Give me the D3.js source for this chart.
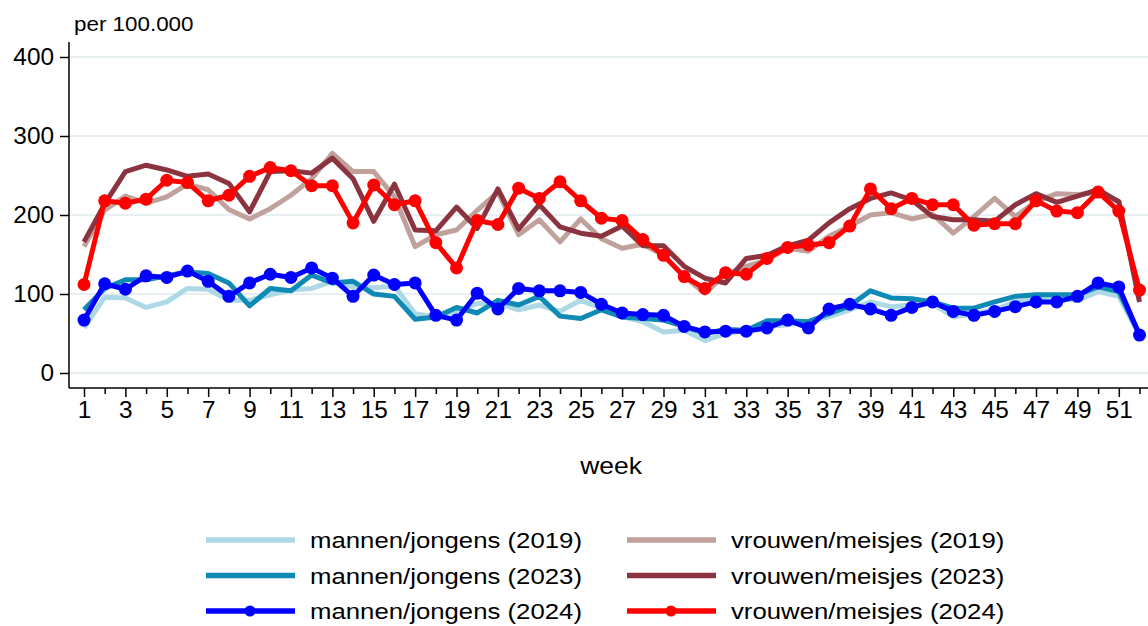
<!DOCTYPE html>
<html>
<head>
<meta charset="utf-8">
<script src="https://cdn.jsdelivr.net/npm/d3@7"></script>
<style>
  body { margin: 0; background: #fff; }
  text { font-family: "Liberation Sans", Arial, sans-serif; fill: #000; }
</style>
</head>
<body>
<svg id="chart" width="1148" height="626"></svg>
<script>
// weeks 1..52
const weeks = d3.range(1, 53);

const mannen2019 = [57,96,95,83,90,107,106,92,92,99,105,107,116,109,108,110,75,71,78,88,88,80,86,78,92,82,71,65,52,54,41,50,54,59,61,65,71,80,90,84,86,88,71,75,80,90,95,95,92,103,97,48];
const mannen2023 = [80,107,118,118,123,128,126,114,85,107,104,124,114,116,100,97,68,71,83,76,92,86,97,72,69,80,71,69,67,59,50,55,54,66,66,65,75,85,104,95,94,90,82,82,90,97,99,99,99,109,103,49];
const mannen2024 = [67,113,106,123,121,129,116,97,114,125,121,133,120,97,124,112,114,73,67,101,81,107,104,104,102,87,76,74,73,59,52,53,53,57,67,57,81,87,81,73,83,90,78,73,78,84,90,90,97,114,109,48];
const vrouwen2019 = [160,206,224,215,223,239,232,207,195,208,225,246,278,255,255,223,160,175,181,206,229,175,194,166,195,170,158,163,149,122,101,125,135,143,158,154,173,186,200,203,195,201,177,198,221,198,217,227,226,228,217,95];
const vrouwen2023 = [166,214,255,263,257,249,252,240,204,255,256,253,272,246,192,239,181,180,210,183,233,182,213,185,177,173,186,161,161,135,120,114,145,149,161,168,190,208,221,228,219,198,194,194,192,213,227,216,224,232,217,90];
const vrouwen2024 = [112,218,215,220,244,241,218,225,249,260,256,237,237,190,238,213,218,165,133,193,188,234,221,242,218,196,193,169,149,122,107,127,125,145,159,162,165,186,233,208,221,213,213,187,189,189,218,205,203,229,205,105];

const yTicks = [0, 100, 200, 300, 400];
const xLabels = d3.range(1, 53, 2);

const series = [
  { name: "mannen/jongens (2019)", values: mannen2019, color: "#add8e6", dots: false, col: 0, row: 0 },
  { name: "mannen/jongens (2023)", values: mannen2023, color: "#0f8ab4", dots: false, col: 0, row: 1 },
  { name: "vrouwen/meisjes (2019)", values: vrouwen2019, color: "#c0a19b", dots: false, col: 1, row: 0 },
  { name: "vrouwen/meisjes (2023)", values: vrouwen2023, color: "#8b3440", dots: false, col: 1, row: 1 },
  { name: "mannen/jongens (2024)", values: mannen2024, color: "#0000ff", dots: true, col: 0, row: 2 },
  { name: "vrouwen/meisjes (2024)", values: vrouwen2024, color: "#ff0000", dots: true, col: 1, row: 2 }
];

const svg = d3.select("#chart");
const axisLeftX = 69, axisBottomY = 388;

const x = d3.scaleLinear().domain([1, 52]).range([84, 1139.5]);
const y = d3.scaleLinear().domain([0, 400]).range([373, 57]);

// the original text is a bit wider than Liberation Sans
function wideText(sel, tx, ty, size, sx) {
  return sel.append("text")
    .attr("transform", `translate(${tx},${ty}) scale(${sx},1)`)
    .style("font-size", size + "px");
}

// gridlines
svg.append("g")
  .selectAll("line")
  .data(yTicks)
  .enter().append("line")
    .attr("x1", axisLeftX).attr("x2", 1148)
    .attr("y1", d => y(d)).attr("y2", d => y(d))
    .attr("stroke", "#e8eff2").attr("stroke-width", 2);

// y axis
const yAxis = svg.append("g")
  .attr("transform", `translate(${axisLeftX},0)`)
  .call(d3.axisLeft(y).tickValues(yTicks).tickSize(9).tickPadding(6));
yAxis.select(".domain").attr("d", `M0,42V${axisBottomY}`).attr("stroke", "#000").attr("stroke-width", 1.5);
yAxis.selectAll(".tick line").attr("stroke", "#000").attr("stroke-width", 1.5);
yAxis.selectAll(".tick text")
  .style("font-size", "23px").attr("font-family", null)
  .attr("x", -15 / 1.06).attr("transform", "scale(1.06,1)");

// x axis: minor ticks each week, labels on odd weeks
const xAxis = svg.append("g")
  .attr("transform", `translate(0,${axisBottomY})`)
  .call(d3.axisBottom(x).tickValues(weeks).tickSize(6)
    .tickFormat(d => xLabels.includes(d) ? d : ""));
xAxis.select(".domain").attr("d", `M${axisLeftX},0H1148`).attr("stroke", "#000").attr("stroke-width", 1.5);
xAxis.selectAll(".tick line")
  .attr("stroke", "#000").attr("stroke-width", 1.5)
  .attr("y2", d => xLabels.includes(d) ? 9 : 6);
xAxis.selectAll(".tick text")
  .attr("y", 14).style("font-size", "23px").attr("font-family", null)
  .attr("transform", "scale(1.06,1)");

wideText(svg, 74, 31, 20, 1.12).text("per 100.000");
wideText(svg, 611, 474, 23, 1.15).attr("text-anchor", "middle").text("week");

// lines
const line = d3.line().x((d, i) => x(weeks[i])).y(d => y(d));

series.forEach(s => {
  svg.append("path")
    .datum(s.values)
    .attr("fill", "none")
    .attr("stroke", s.color)
    .attr("stroke-width", 5)
    .attr("stroke-linejoin", "round")
    .attr("d", line);
  if (s.dots) {
    svg.append("g").selectAll("circle")
      .data(s.values)
      .enter().append("circle")
        .attr("cx", (d, i) => x(weeks[i]))
        .attr("cy", d => y(d))
        .attr("r", 6.5)
        .attr("fill", s.color);
  }
});

// legend
const legend = svg.append("g");
series.forEach(s => {
  const lx = s.col === 0 ? 206 : 627;
  const ly = 540 + s.row * 35.5;
  const g = legend.append("g").attr("transform", `translate(${lx},${ly})`);
  g.append("line").attr("x1", 0).attr("x2", 89).attr("y1", 0).attr("y2", 0)
    .attr("stroke", s.color).attr("stroke-width", 5.5);
  if (s.dots) g.append("circle").attr("cx", 44).attr("cy", 0).attr("r", 5.5).attr("fill", s.color);
  wideText(g, 104, 8, 23, 1.12).text(s.name);
});
</script>
</body>
</html>
